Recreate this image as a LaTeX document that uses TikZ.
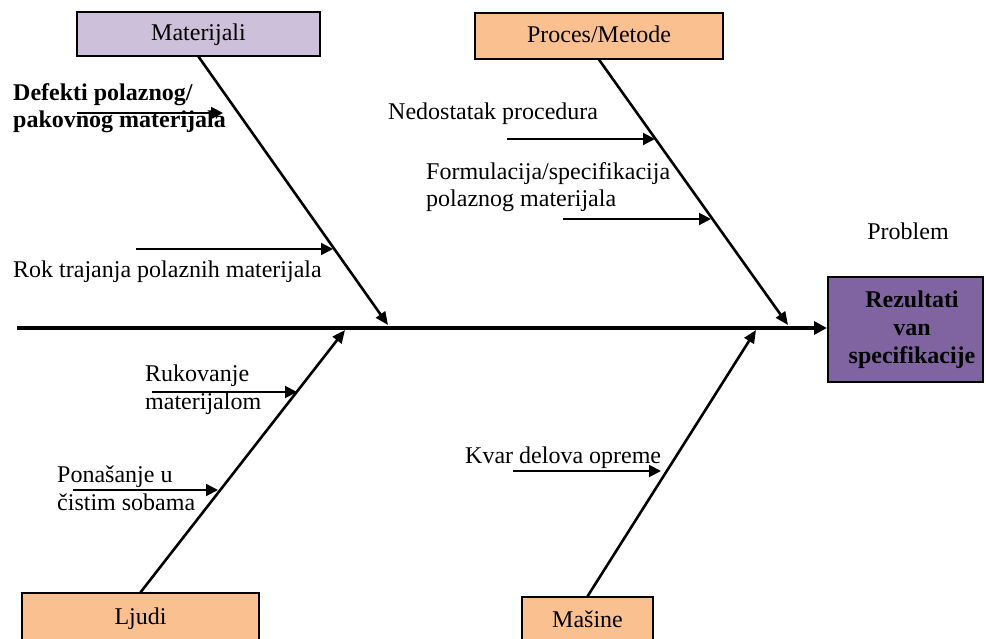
\documentclass[tikz,border=0pt]{standalone}
\usepackage{fontspec}
\setmainfont{Liberation Serif}
\usetikzlibrary{arrows.meta}

\definecolor{lavender}{HTML}{CCC0DA}
\definecolor{peach}{HTML}{FAC090}
\definecolor{plum}{HTML}{8064A2}

\tikzset{
  txt/.style={font=\fontsize{24}{27.6}\selectfont, inner sep=0pt, align=left},
  cause/.style={draw=black, line width=1.3pt, inner sep=0pt, text height=16pt, text depth=2pt,
    font=\fontsize{24}{27.6}\selectfont},
  spine/.style={line width=3.4pt, -{Triangle[length=13pt,width=13pt]}},
  bone/.style={line width=2.6pt, -{Triangle[length=13pt,width=11pt]}},
  rib/.style={line width=2pt, -{Triangle[length=12pt,width=12pt]}},
}

\begin{document}
\begin{tikzpicture}[x=1pt, y=-1pt]
  \useasboundingbox (0,0) rectangle (986,639);
  \clip (0,0) rectangle (986,639);

  % cause boxes
  \node[cause, fill=lavender, minimum width=243pt, minimum height=44pt] (mat) at (198.5,34) {Materijali};
  \node[cause, fill=peach, minimum width=248pt, minimum height=46pt] (proc) at (599,36) {Proces/Metode};
  \node[cause, fill=peach, minimum width=237pt, minimum height=48pt] (ljudi) at (140.5,617) {Ljudi};
  \node[cause, fill=peach, minimum width=131pt, minimum height=46pt] (masine) at (587.5,620) {Mašine};

  % effect box (multi-line node: base anchor sits on the last line)
  \node[draw=black, line width=2pt, fill=plum, minimum width=155pt, minimum height=105pt, inner sep=0pt] (prob) at (905.5,329.5) {};
  \node[txt, align=center, font=\fontsize{24}{27.6}\selectfont\bfseries, anchor=base] (probtxt) at (912,363) {Rezultati\\van\\specifikacije};
  \node[txt, anchor=base] (problem) at (908,240) {Problem};

  % spine
  \coordinate (tail) at (17,328);
  \draw[spine] (tail) -- (prob.west |- tail);

  % points where the bones meet the spine
  \coordinate (matend) at (388,325);
  \coordinate (procend) at (788,325);
  \coordinate (ljudiend) at (345,330);
  \coordinate (masineend) at (756,330);

  % bones
  \draw[bone] (mat.south) -- (matend);
  \draw[bone] (proc.south) -- (procend);
  \draw[bone] (ljudi.north) -- (ljudiend);
  \draw[bone] (masine.north) -- (masineend);

  % sub-causes: Materijali
  \node[txt, font=\fontsize{24}{27.6}\selectfont\bfseries, anchor=base west] (defekti) at (13,128) {Defekti polaznog/\\pakovnog materijala};
  \coordinate (defA) at (77,113);  \coordinate (defB) at (223,113);
  \draw[rib] (defA) -- (defB);

  \node[txt, anchor=base west] (rok) at (13,278) {Rok trajanja polaznih materijala};
  \coordinate (rokA) at (136,249); \coordinate (rokB) at (333,249);
  \draw[rib] (rokA) -- (rokB);

  % sub-causes: Proces/Metode
  \node[txt, anchor=base west] (nedost) at (388,120) {Nedostatak procedura};
  \coordinate (nedA) at (507,139); \coordinate (nedB) at (655,139);
  \draw[rib] (nedA) -- (nedB);

  \node[txt, anchor=base west] (formul) at (426,207) {Formulacija/specifikacija\\polaznog materijala};
  \coordinate (forA) at (563,219); \coordinate (forB) at (711,219);
  \draw[rib] (forA) -- (forB);

  % sub-causes: Ljudi
  \node[txt, anchor=base west] (rukov) at (145,409) {Rukovanje\\materijalom};
  \coordinate (rukA) at (152,392); \coordinate (rukB) at (297,392);
  \draw[rib] (rukA) -- (rukB);

  \node[txt, anchor=base west] (ponas) at (57,510) {Ponašanje u\\čistim sobama};
  \coordinate (ponA) at (73,490); \coordinate (ponB) at (218,490);
  \draw[rib] (ponA) -- (ponB);

  % sub-causes: Mašine
  \node[txt, anchor=base west] (kvar) at (465,463) {Kvar delova opreme};
  \coordinate (kvaA) at (513,471); \coordinate (kvaB) at (661,471);
  \draw[rib] (kvaA) -- (kvaB);
\end{tikzpicture}
\end{document}
